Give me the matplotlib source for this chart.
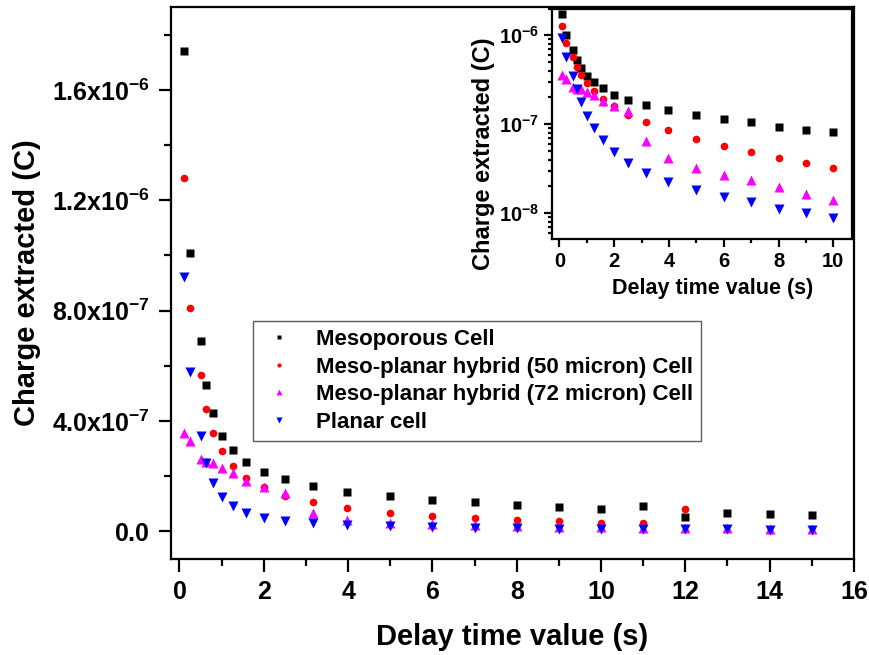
import numpy as np
import matplotlib
matplotlib.use("Agg")
import matplotlib.pyplot as plt
from matplotlib.ticker import MultipleLocator, FuncFormatter, LogLocator, NullFormatter

plt.rcParams['font.family'] = ['Liberation Sans', 'DejaVu Sans']
plt.rcParams['font.weight'] = 'bold'
plt.rcParams['mathtext.fontset'] = 'custom'
plt.rcParams['mathtext.rm'] = 'Liberation Sans'
plt.rcParams['mathtext.bf'] = 'Liberation Sans:bold'

# delay times (s)
t_meso = [0.1, 0.25, 0.5, 0.63, 0.79, 1.0, 1.26, 1.58, 2.0, 2.51, 3.16, 3.98,
          5, 6, 7, 8, 9, 10, 11, 12, 13, 14, 15]
q_meso = [1.74e-6, 1.01e-6, 0.69e-6, 0.53e-6, 0.43e-6, 0.347e-6, 0.296e-6, 0.252e-6,
          0.214e-6, 0.188e-6, 0.163e-6, 0.144e-6, 0.127e-6, 0.115e-6, 0.105e-6,
          0.094e-6, 0.087e-6, 0.081e-6, 0.092e-6, 0.051e-6, 0.067e-6, 0.063e-6, 0.059e-6]

t_50 = [0.1, 0.25, 0.5, 0.63, 0.79, 1.0, 1.26, 1.58, 2.0, 2.51, 3.16, 3.98,
        5, 6, 7, 8, 9, 10, 11, 12]
q_50 = [1.28e-6, 0.81e-6, 0.565e-6, 0.444e-6, 0.357e-6, 0.292e-6, 0.238e-6, 0.194e-6,
        0.160e-6, 0.128e-6, 0.105e-6, 0.085e-6, 0.068e-6, 0.057e-6, 0.0487e-6,
        0.0417e-6, 0.0366e-6, 0.0318e-6, 0.030e-6, 0.081e-6]

t_72 = t_meso
q_72 = [0.358e-6, 0.326e-6, 0.261e-6, 0.25e-6, 0.248e-6, 0.23e-6, 0.213e-6, 0.184e-6,
        0.162e-6, 0.14e-6, 0.065e-6, 0.0412e-6, 0.0318e-6, 0.027e-6, 0.0237e-6,
        0.0196e-6, 0.0164e-6, 0.0141e-6, 0.012e-6, 0.011e-6, 0.0105e-6, 0.010e-6, 0.0095e-6]

t_planar = t_meso
q_planar = [0.92e-6, 0.577e-6, 0.347e-6, 0.249e-6, 0.177e-6, 0.125e-6, 0.0906e-6, 0.0658e-6,
            0.0482e-6, 0.0366e-6, 0.0286e-6, 0.0225e-6, 0.0183e-6, 0.0151e-6, 0.0132e-6,
            0.0112e-6, 0.0100e-6, 0.0089e-6, 0.008e-6, 0.0075e-6, 0.007e-6, 0.0065e-6, 0.006e-6]

labels = ["Mesoporous Cell", "Meso-planar hybrid (50 micron) Cell",
          "Meso-planar hybrid (72 micron) Cell", "Planar cell"]


def draw_series(ax, ms):
    ax.plot(t_meso, q_meso, 's', color='black', ms=ms, mec='none', label=labels[0])
    ax.plot(t_50, q_50, 'o', color='red', ms=ms, mec='none', label=labels[1])
    ax.plot(t_72, q_72, '^', color='magenta', ms=ms + 1.5, mec='none', label=labels[2])
    ax.plot(t_planar, q_planar, 'v', color='blue', ms=ms + 1.5, mec='none', label=labels[3])


def style_spines(ax):
    for s in ax.spines.values():
        s.set_linewidth(1.6)
    ax.tick_params(which='both', direction='out', top=False, right=False, width=1.6)


fig = plt.figure(figsize=(8.69, 6.55), dpi=100)

# main plot
ax = fig.add_axes([0.1968, 0.1466, 0.7859, 0.8427])
draw_series(ax, 5.5)
ax.set_xlim(-0.2, 16)
ax.set_ylim(-1e-7, 1.9e-6)
ax.xaxis.set_major_locator(MultipleLocator(2))
ax.xaxis.set_minor_locator(MultipleLocator(1))
ax.yaxis.set_major_locator(MultipleLocator(4e-7))
ax.yaxis.set_minor_locator(MultipleLocator(2e-7))


def main_fmt(v, pos):
    if abs(v) < 1e-12:
        return r'$\mathbf{0.0}$'
    e = int(np.floor(np.log10(abs(v))))
    m = v / 10 ** e
    return r'$\mathbf{%.1fx10^{%d}}$' % (m, e)


ax.yaxis.set_major_formatter(FuncFormatter(main_fmt))
style_spines(ax)
ax.tick_params(which='major', length=9, labelsize=18, pad=6)
ax.tick_params(which='minor', length=5)
for lab in ax.get_xticklabels():
    lab.set_fontweight('bold')
ax.set_xlabel("Delay time value (s)", fontsize=21, fontweight='bold', labelpad=14)
ax.set_ylabel("Charge extracted (C)", fontsize=21, fontweight='bold', labelpad=8)

leg = ax.legend(loc='upper left', bbox_to_anchor=(0.12, 0.431), borderaxespad=0,
                fontsize=16, markerscale=0.55, fancybox=False, edgecolor='#333333',
                labelspacing=0.3, handletextpad=0.9, borderpad=0.35, handlelength=1.6)
leg.get_frame().set_linewidth(1.0)
for txt in leg.get_texts():
    txt.set_fontweight('bold')

# inset, log scale
ins = fig.add_axes([0.635, 0.635, 0.346, 0.352])
draw_series(ins, 5.5)
ins.set_yscale('log')
ins.set_xlim(-0.28, 10.7)
ins.set_ylim(5.1e-9, 2.0e-6)
ins.xaxis.set_major_locator(MultipleLocator(2))
ins.xaxis.set_minor_locator(MultipleLocator(1))
ins.yaxis.set_major_locator(LogLocator(base=10))
ins.yaxis.set_minor_locator(LogLocator(base=10, subs=np.arange(2, 10)))
ins.yaxis.set_minor_formatter(NullFormatter())
ins.yaxis.set_major_formatter(FuncFormatter(
    lambda v, pos: r'$\mathbf{10^{%d}}$' % int(round(np.log10(v)))))
style_spines(ins)
ins.tick_params(which='major', length=6, labelsize=14.5, pad=3)
ins.tick_params(which='minor', length=3)
for lab in ins.get_xticklabels():
    lab.set_fontweight('bold')
ins.set_xlabel("Delay time value (s)", fontsize=15.5, fontweight='bold')
ins.set_ylabel("Charge extracted (C)", fontsize=17, fontweight='bold')
ins.xaxis.set_label_coords(0.535, -0.17)
ins.yaxis.set_label_coords(-0.19, 0.37)

fig.savefig("out.png", dpi=100)
